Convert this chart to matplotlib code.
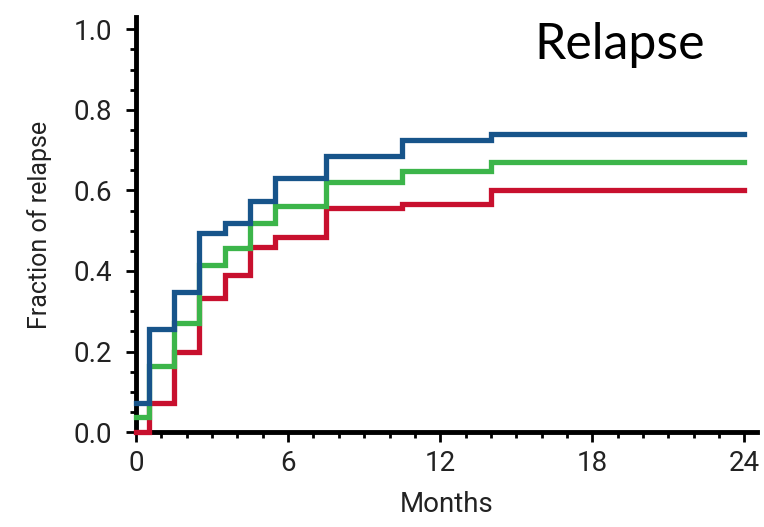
import matplotlib
matplotlib.use("Agg")
import matplotlib.pyplot as plt
from matplotlib.ticker import MultipleLocator

# step times (months) and cumulative fraction of relapse after each step
times = [0, 0.5, 1.5, 2.5, 3.5, 4.5, 5.5, 7.5, 10.5, 14, 24]
blue = [0.072, 0.255, 0.347, 0.493, 0.52, 0.574, 0.631, 0.686, 0.725, 0.74, 0.74]
green = [0.037, 0.165, 0.272, 0.416, 0.458, 0.52, 0.562, 0.62, 0.648, 0.671, 0.671]
red = [0.0, 0.072, 0.198, 0.332, 0.39, 0.46, 0.485, 0.557, 0.565, 0.60, 0.60]

x_ticks = [0, 6, 12, 18, 24]
y_ticks = [0.0, 0.2, 0.4, 0.6, 0.8, 1.0]

narrow = ["Roboto", "DejaVu Sans"]

fig = plt.figure(figsize=(7.64, 5.27), dpi=100)
ax = fig.add_axes([0.178, 0.180, 0.813, 0.7875])

for ys, col in [(red, "#c8102e"), (green, "#3cb54a"), (blue, "#17548a")]:
    ax.step(times, ys, where="post", color=col, lw=3.8, clip_on=False, zorder=5,
            solid_joinstyle="miter")

ax.set_xlim(0, 24.5)
ax.set_ylim(0, 1.03)
ax.set_xticks(x_ticks)
ax.set_yticks(y_ticks)
ax.set_yticklabels([f"{v:.1f}" for v in y_ticks])
ax.xaxis.set_minor_locator(MultipleLocator(1))
ax.yaxis.set_minor_locator(MultipleLocator(0.05))

for s in ["top", "right"]:
    ax.spines[s].set_visible(False)
for s in ["left", "bottom"]:
    ax.spines[s].set_linewidth(3.5)

ax.tick_params(which="major", direction="out", length=7, width=2, labelsize=20, pad=6)
ax.tick_params(axis="y", which="major", pad=10)
ax.tick_params(which="minor", direction="out", length=4, width=2)
for lab in ax.get_xticklabels() + ax.get_yticklabels():
    lab.set_family(narrow)
    lab.set_color("#222222")

ax.set_xlabel("Months", fontsize=20, family=narrow, color="#222222", labelpad=10)
ax.set_ylabel("Fraction of relapse", fontsize=18, family=narrow, color="#222222", labelpad=16)

fig.text(0.70, 0.915, "Relapse", fontsize=36, family=["Lato", "DejaVu Sans"],
         ha="left", va="center")

fig.savefig("out.png", dpi=100)
